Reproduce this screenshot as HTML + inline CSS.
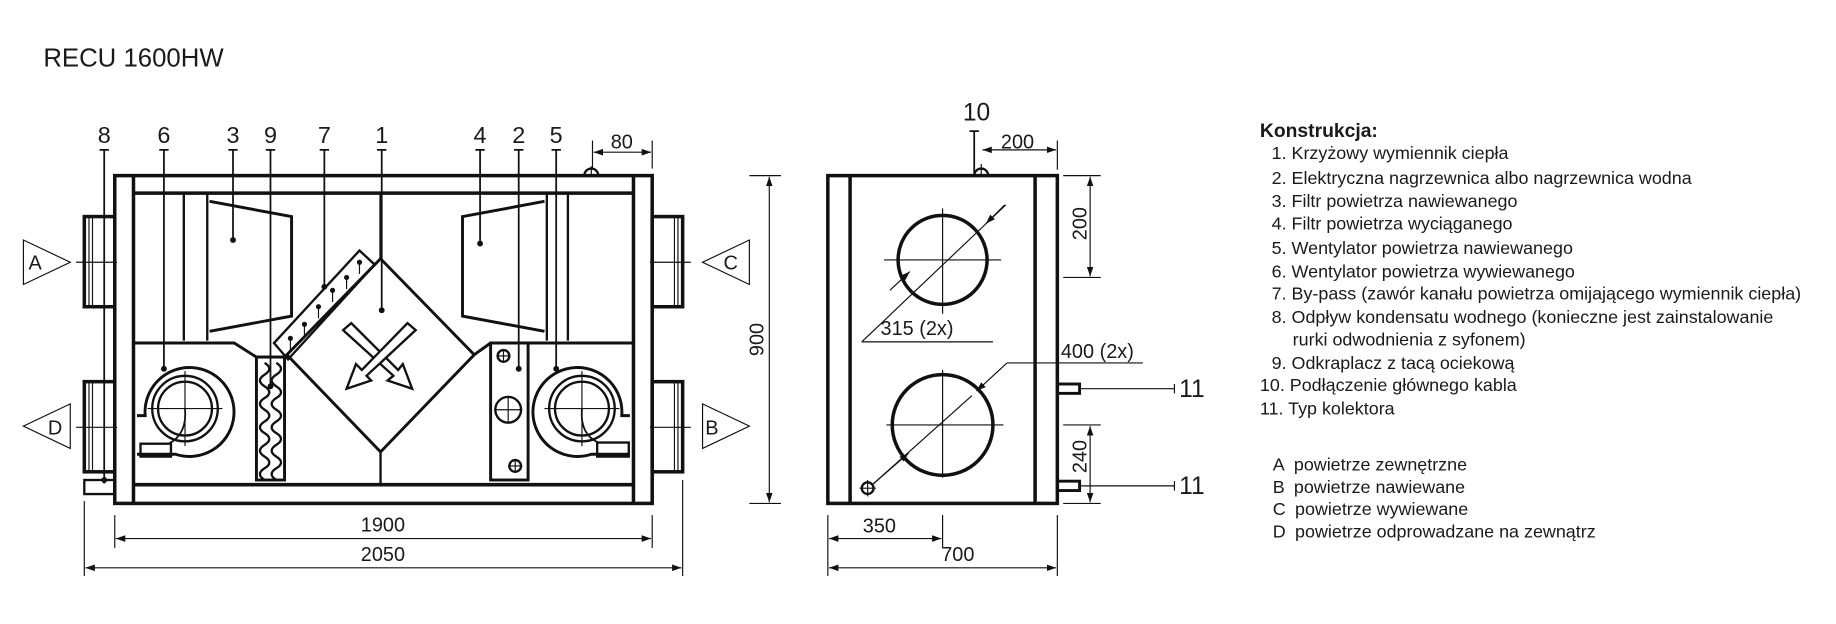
<!DOCTYPE html>
<html><head><meta charset="utf-8"><style>
html,body{margin:0;padding:0;background:#fff;}
svg{display:block;}
text{font-family:"Liberation Sans",Arial,sans-serif;fill:#1a1a1a;}
</style></head><body>
<svg width="1836" height="624" viewBox="0 0 1568 533" preserveAspectRatio="none" xmlns="http://www.w3.org/2000/svg">
<defs>
<marker id="ar" viewBox="0 0 10 10" refX="10" refY="5" markerWidth="8" markerHeight="8" orient="auto-start-reverse"><path d="M0,1.5 L10,5 L0,8.5 z" fill="#111"/></marker>
</defs>
<text x="37" y="57" font-size="22">RECU 1600HW</text>

<g stroke="#111" fill="none" stroke-width="3">
<rect x="98" y="150" width="459" height="280"/>
<line x1="114" y1="150" x2="114" y2="430"/>
<line x1="541" y1="150" x2="541" y2="430"/>
<line x1="114" y1="165" x2="541" y2="165"/>
<line x1="114" y1="414" x2="541" y2="414"/>
<rect x="72" y="185" width="26" height="77"/>
<rect x="72" y="326" width="26" height="77"/>
<rect x="557" y="185" width="26" height="77"/>
<rect x="557" y="326" width="26" height="77"/>
<line x1="157" y1="165" x2="157" y2="291" stroke-width="2"/>
<line x1="177" y1="165" x2="177" y2="291" stroke-width="2"/>
<line x1="467" y1="165" x2="467" y2="291" stroke-width="2"/>
<line x1="485" y1="165" x2="485" y2="291" stroke-width="2"/>
<polyline points="179,172 249,185 249,270 179,283" stroke-width="2.5"/>
<polyline points="465,172 395,185 395,270 465,283" stroke-width="2.5"/>
<polyline points="114,293 200,293 219,305 243,305" stroke-width="2.5"/>
<polyline points="405,303 419,293 541,293" stroke-width="2.5"/>
<polygon points="325,221 405,303 325,386 245,303" stroke-width="2.5"/>
<line x1="325" y1="165" x2="325" y2="221" stroke-width="2"/>
<line x1="325" y1="386" x2="325" y2="414" stroke-width="2"/>
<polygon points="234,293 307,214 320,226 246,307" stroke-width="2"/>
<rect x="219" y="305" width="24" height="105" stroke-width="2.5"/>
<path d="M226,310 q8,5 0,10 q-8,5 0,10 q8,5 0,10 q-8,5 0,10 q8,5 0,10 q-8,5 0,10 q8,5 0,10 q-8,5 0,10 q8,5 0,10 q-8,5 0,10" stroke-width="2"/>
<path d="M236,310 q8,5 0,10 q-8,5 0,10 q8,5 0,10 q-8,5 0,10 q8,5 0,10 q-8,5 0,10 q8,5 0,10 q-8,5 0,10 q8,5 0,10 q-8,5 0,10" stroke-width="2"/>
<rect x="419" y="293" width="32" height="117" stroke-width="2.5"/>
<circle cx="434" cy="350" r="11" stroke-width="2"/>
<path d="M117,355 L124,355 A38,38 0 1 1 150,388 L117,388" stroke-width="2.5"/>
<circle cx="158" cy="349" r="28" stroke-width="2"/>
<circle cx="158" cy="349" r="23" stroke-width="2"/>
<rect x="120" y="379" width="26" height="11" stroke-width="2"/>
<path d="M538,355 L531,355 A38,38 0 1 0 505,388 L538,388" stroke-width="2.5"/>
<circle cx="497" cy="349" r="28" stroke-width="2"/>
<circle cx="497" cy="349" r="23" stroke-width="2"/>
<rect x="510" y="378" width="27" height="12" stroke-width="2"/>
<rect x="72" y="410" width="26" height="12" stroke-width="2"/>
<rect x="707" y="150" width="196" height="280"/>
<line x1="726" y1="150" x2="726" y2="430"/>
<line x1="884" y1="150" x2="884" y2="430"/>
<circle cx="805" cy="222" r="38"/>
<circle cx="805" cy="363" r="43"/>
<rect x="903" y="328" width="19" height="8" stroke-width="2.5"/>
<rect x="903" y="411" width="19" height="8" stroke-width="2.5"/>
</g>

<g stroke="#111" fill="none" stroke-width="1">
<line x1="76" y1="186" x2="76" y2="261"/><line x1="79" y1="186" x2="79" y2="261"/>
<line x1="76" y1="327" x2="76" y2="402"/><line x1="79" y1="327" x2="79" y2="402"/>
<line x1="579" y1="186" x2="579" y2="261"/><line x1="576" y1="186" x2="576" y2="261"/>
<line x1="579" y1="327" x2="579" y2="402"/><line x1="576" y1="327" x2="576" y2="402"/>
<line x1="65" y1="224" x2="100" y2="224"/><line x1="65" y1="365" x2="100" y2="365"/>
<line x1="555" y1="224" x2="590" y2="224"/><line x1="555" y1="365" x2="590" y2="365"/>
<polygon points="20,205 20,243 60,224"/>
<polygon points="60,345 60,383 20,364"/>
<polygon points="640,205 640,243 600,224"/>
<polygon points="600,345 600,383 640,364"/>
<line x1="126" y1="349" x2="190" y2="349"/><line x1="158" y1="317" x2="158" y2="381"/>
<line x1="465" y1="349" x2="529" y2="349"/><line x1="497" y1="317" x2="497" y2="381"/>
<path d="M158,349 q2,22 -14,30" stroke-width="1.5"/>
<path d="M497,349 q-2,22 14,29" stroke-width="1.5"/>
<line x1="422" y1="350" x2="446" y2="350"/><line x1="434" y1="338" x2="434" y2="362"/>
<circle cx="430" cy="304" r="5" stroke-width="2"/><line x1="424" y1="304" x2="436" y2="304"/><line x1="430" y1="298" x2="430" y2="310"/>
<circle cx="440" cy="398" r="5" stroke-width="2"/><line x1="434" y1="398" x2="446" y2="398"/><line x1="440" y1="392" x2="440" y2="404"/>
<polygon points="293,282 300,276 340,316 344,311 352,332 331,325 336,321" stroke-width="2"/>
<polygon points="355,282 348,276 309,316 304,311 296,332 317,325 313,321" stroke-width="2" fill="#fff"/>
<g stroke-width="1.5">
<line x1="89" y1="128" x2="89" y2="413"/><line x1="85" y1="128" x2="93" y2="128"/>
<line x1="140" y1="128" x2="140" y2="315"/><line x1="136" y1="128" x2="144" y2="128"/>
<line x1="199" y1="128" x2="199" y2="205"/><line x1="195" y1="128" x2="203" y2="128"/>
<line x1="231" y1="128" x2="231" y2="330"/><line x1="227" y1="128" x2="235" y2="128"/>
<line x1="277" y1="128" x2="277" y2="245"/><line x1="273" y1="128" x2="281" y2="128"/>
<line x1="326" y1="128" x2="326" y2="165"/><line x1="322" y1="128" x2="330" y2="128"/>
<line x1="410" y1="128" x2="410" y2="208"/><line x1="406" y1="128" x2="414" y2="128"/>
<line x1="443" y1="128" x2="443" y2="315"/><line x1="439" y1="128" x2="447" y2="128"/>
<line x1="475" y1="128" x2="475" y2="315"/><line x1="471" y1="128" x2="479" y2="128"/>
<line x1="832" y1="112" x2="832" y2="148"/><line x1="828" y1="112" x2="836" y2="112"/>
</g>
<g stroke-width="1">
<line x1="248" y1="289" x2="248" y2="299"/><line x1="260" y1="277" x2="260" y2="287"/><line x1="272" y1="262" x2="272" y2="272"/><line x1="284" y1="248" x2="284" y2="258"/><line x1="296" y1="237" x2="296" y2="247"/><line x1="307" y1="224" x2="307" y2="234"/>
</g>
<path d="M499,150 A6,6 0 0 1 511,150" stroke-width="2"/><line x1="505" y1="142" x2="505" y2="150"/>
<path d="M832,150 A6,6 0 0 1 844,150" stroke-width="2"/><line x1="838" y1="140" x2="838" y2="150"/>
<line x1="506" y1="120" x2="506" y2="144"/><line x1="557" y1="120" x2="557" y2="144"/>
<line x1="507" y1="130" x2="556" y2="130" marker-start="url(#ar)" marker-end="url(#ar)"/>
<line x1="98" y1="440" x2="98" y2="468"/><line x1="557" y1="440" x2="557" y2="468"/>
<line x1="99" y1="460" x2="556" y2="460" marker-start="url(#ar)" marker-end="url(#ar)"/>
<line x1="72" y1="428" x2="72" y2="492"/><line x1="583" y1="410" x2="583" y2="492"/>
<line x1="73" y1="485" x2="582" y2="485" marker-start="url(#ar)" marker-end="url(#ar)"/>
<line x1="640" y1="150" x2="667" y2="150"/><line x1="640" y1="430" x2="667" y2="430"/>
<line x1="657" y1="151" x2="657" y2="429" marker-start="url(#ar)" marker-end="url(#ar)"/>
<line x1="903" y1="120" x2="903" y2="145"/>
<line x1="839" y1="128" x2="902" y2="128" marker-start="url(#ar)" marker-end="url(#ar)"/>
<line x1="908" y1="150" x2="940" y2="150"/><line x1="908" y1="237" x2="940" y2="237"/>
<line x1="931" y1="151" x2="931" y2="236" marker-start="url(#ar)" marker-end="url(#ar)"/>
<line x1="908" y1="363" x2="940" y2="363"/><line x1="908" y1="430" x2="940" y2="430"/>
<line x1="931" y1="364" x2="931" y2="429" marker-start="url(#ar)" marker-end="url(#ar)"/>
<line x1="922" y1="332" x2="1003" y2="332"/><line x1="1003" y1="328" x2="1003" y2="336"/>
<line x1="922" y1="415" x2="1003" y2="415"/><line x1="1003" y1="411" x2="1003" y2="419"/>
<line x1="707" y1="440" x2="707" y2="492"/><line x1="805" y1="440" x2="805" y2="468"/><line x1="903" y1="440" x2="903" y2="492"/>
<line x1="708" y1="460" x2="804" y2="460" marker-start="url(#ar)" marker-end="url(#ar)"/>
<line x1="708" y1="485" x2="902" y2="485" marker-start="url(#ar)" marker-end="url(#ar)"/>
<line x1="755" y1="222" x2="855" y2="222"/><line x1="805" y1="178" x2="805" y2="268"/>
<line x1="757" y1="363" x2="857" y2="363"/><line x1="805" y1="316" x2="805" y2="408"/>
<line x1="736" y1="292" x2="859" y2="175"/><line x1="736" y1="292" x2="848" y2="292"/>
<line x1="760" y1="248" x2="777" y2="232" marker-end="url(#ar)"/>
<line x1="858" y1="175" x2="842" y2="191" marker-end="url(#ar)"/>
<line x1="860" y1="310" x2="976" y2="310"/><line x1="860" y1="310" x2="834" y2="334" marker-end="url(#ar)"/>
<line x1="830" y1="338" x2="745" y2="414"/>
<line x1="745" y1="414" x2="776" y2="387" marker-end="url(#ar)"/>
<circle cx="741" cy="417" r="5" stroke-width="2"/><line x1="734" y1="417" x2="748" y2="417"/><line x1="741" y1="410" x2="741" y2="424"/>
</g>
<g fill="#111">
<circle cx="199" cy="205" r="2.5"/><circle cx="231" cy="330" r="2.5"/><circle cx="277" cy="245" r="2.5"/>
<circle cx="326" cy="265" r="2.5"/><circle cx="410" cy="208" r="2.5"/><circle cx="443" cy="315" r="2.5"/>
<circle cx="475" cy="315" r="2.5"/><circle cx="140" cy="315" r="2.5"/><circle cx="89" cy="410" r="2.5"/>
<circle cx="248" cy="289" r="2.2"/><circle cx="260" cy="277" r="2.2"/><circle cx="272" cy="262" r="2.2"/><circle cx="284" cy="248" r="2.2"/><circle cx="296" cy="237" r="2.2"/><circle cx="307" cy="224" r="2.2"/>
</g>
<line x1="326" y1="165" x2="326" y2="265" stroke="#111" stroke-width="1.5"/>

<g font-size="20" text-anchor="middle">
<text x="89" y="122">8</text><text x="140" y="122">6</text><text x="199" y="122">3</text><text x="231" y="122">9</text>
<text x="277" y="122">7</text><text x="326" y="122">1</text><text x="410" y="122">4</text><text x="443" y="122">2</text><text x="475" y="122">5</text>
<text x="834" y="103" font-size="21">10</text>
</g>
<g font-size="17" text-anchor="middle">
<text x="30" y="230">A</text><text x="47" y="371">D</text><text x="624" y="230">C</text><text x="608" y="371">B</text>
<text x="531" y="127">80</text><text x="327" y="454">1900</text><text x="327" y="479">2050</text>
<text x="869" y="127">200</text><text x="751" y="455">350</text><text x="818" y="479">700</text>
<text x="0" y="0" transform="translate(652,290) rotate(-90)">900</text>
<text x="0" y="0" transform="translate(928,191) rotate(-90)">200</text>
<text x="0" y="0" transform="translate(928,390) rotate(-90)">240</text>
</g>
<text x="752" y="286" font-size="17">315 (2x)</text>
<text x="906" y="306" font-size="17">400 (2x)</text>
<text x="1007" y="339" font-size="21">11</text>
<text x="1007" y="422" font-size="21">11</text>

<text x="1076" y="117" font-size="16.5" font-weight="bold">Konstrukcja:</text>
<g font-size="15.3">
<text x="1086" y="136">1. Krzyżowy wymiennik ciepła</text>
<text x="1086" y="157">2. Elektryczna nagrzewnica albo nagrzewnica wodna</text>
<text x="1086" y="177">3. Filtr powietrza nawiewanego</text>
<text x="1086" y="196">4. Filtr powietrza wyciąganego</text>
<text x="1086" y="217">5. Wentylator powietrza nawiewanego</text>
<text x="1086" y="237">6. Wentylator powietrza wywiewanego</text>
<text x="1086" y="256">7. By-pass (zawór kanału powietrza omijającego wymiennik ciepła)</text>
<text x="1086" y="276">8. Odpływ kondensatu wodnego (konieczne jest zainstalowanie</text>
<text x="1104" y="295">rurki odwodnienia z syfonem)</text>
<text x="1086" y="315">9. Odkraplacz z tacą ociekową</text>
<text x="1076" y="334">10. Podłączenie głównego kabla</text>
<text x="1076" y="354">11. Typ kolektora</text>
<text x="1087" y="402">A</text><text x="1105" y="402">powietrze zewnętrzne</text>
<text x="1087" y="421">B</text><text x="1105" y="421">powietrze nawiewane</text>
<text x="1087" y="440">C</text><text x="1106" y="440">powietrze wywiewane</text>
<text x="1087" y="459">D</text><text x="1106" y="459">powietrze odprowadzane na zewnątrz</text>
</g>
</svg>
</body></html>
